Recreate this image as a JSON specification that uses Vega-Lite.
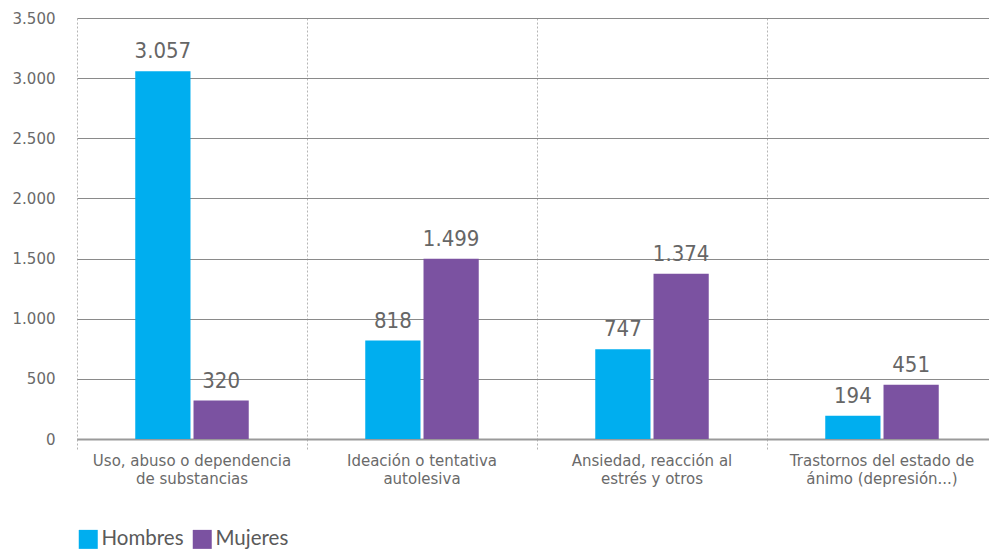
{
  "$schema": "https://vega.github.io/schema/vega-lite/v6.json",
  "autosize": {"type": "none"},
  "padding": {"left": 62, "top": 18, "right": 0, "bottom": 110},
  "width": 927,
  "height": 421,
  "config": {
    "locale": {"number": {"decimal": ",", "thousands": ".", "grouping": [3], "currency": ["", " €"]}},
    "view": {"stroke": null},
    "font": "DejaVu Sans"
  },
  "data": {
    "values": [
      {"categoria": "Uso, abuso o dependencia de substancias", "sexo": "Hombres", "valor": 3057},
      {"categoria": "Uso, abuso o dependencia de substancias", "sexo": "Mujeres", "valor": 320},
      {"categoria": "Ideación o tentativa autolesiva", "sexo": "Hombres", "valor": 818},
      {"categoria": "Ideación o tentativa autolesiva", "sexo": "Mujeres", "valor": 1499},
      {"categoria": "Ansiedad, reacción al estrés y otros", "sexo": "Hombres", "valor": 747},
      {"categoria": "Ansiedad, reacción al estrés y otros", "sexo": "Mujeres", "valor": 1374},
      {"categoria": "Trastornos del estado de ánimo (depresión...)", "sexo": "Hombres", "valor": 194},
      {"categoria": "Trastornos del estado de ánimo (depresión...)", "sexo": "Mujeres", "valor": 451}
    ]
  },
  "encoding": {
    "x": {
      "field": "categoria",
      "type": "nominal",
      "sort": null,
      "title": null,
      "scale": {"range": [15, 935], "paddingInner": 0, "paddingOuter": 0},
      "axis": {
        "bandPosition": 0,
        "grid": true,
        "gridDash": [2, 2],
        "gridColor": "#b5b5b5",
        "gridWidth": 1,
        "ticks": true,
        "tickSize": 10,
        "tickDash": [2, 2],
        "tickColor": "#b5b5b5",
        "domain": true,
        "domainColor": "#9a9a9a",
        "domainWidth": 2,
        "labelAngle": 0,
        "labelLimit": 400,
        "labelFont": "DejaVu Sans",
        "labelFontSize": 15,
        "labelColor": "#6a6a6a",
        "labelPadding": 4,
        "labelLineHeight": 18,
        "labelBaseline": "top",
        "labelExpr": "{'Uso, abuso o dependencia de substancias': ['Uso, abuso o dependencia', 'de substancias'], 'Ideación o tentativa autolesiva': ['Ideación o tentativa', 'autolesiva'], 'Ansiedad, reacción al estrés y otros': ['Ansiedad, reacción al', 'estrés y otros'], 'Trastornos del estado de ánimo (depresión...)': ['Trastornos del estado de', 'ánimo (depresión...)']}[datum.label]"
      }
    },
    "xOffset": {
      "field": "sexo",
      "type": "nominal",
      "sort": ["Hombres", "Mujeres"],
      "scale": {"paddingInner": 0.052, "paddingOuter": 1.01}
    },
    "y": {
      "field": "valor",
      "type": "quantitative",
      "title": null,
      "scale": {"domain": [0, 3500], "nice": false},
      "axis": {
        "values": [0, 500, 1000, 1500, 2000, 2500, 3000, 3500],
        "format": ",d",
        "grid": true,
        "gridColor": "#8a8a8a",
        "gridWidth": 1,
        "domain": false,
        "ticks": false,
        "labelPadding": 7,
        "labelFont": "DejaVu Sans",
        "labelFontSize": 15,
        "labelColor": "#6a6a6a"
      }
    }
  },
  "layer": [
    {
      "mark": {"type": "bar"},
      "encoding": {
        "color": {
          "field": "sexo",
          "type": "nominal",
          "sort": ["Hombres", "Mujeres"],
          "scale": {"domain": ["Hombres", "Mujeres"], "range": ["#00AEEF", "#7B52A1"]},
          "legend": {
            "title": null,
            "orient": "none",
            "legendX": 16,
            "legendY": 511,
            "direction": "horizontal",
            "symbolType": "square",
            "symbolSize": 361,
            "symbolStrokeWidth": 0,
            "symbolOpacity": 1,
            "labelFont": "Lato",
            "labelFontSize": 20.5,
            "labelColor": "#5a5a5a",
            "labelOffset": 3,
            "columnPadding": 8
          }
        }
      }
    },
    {
      "mark": {
        "type": "text",
        "baseline": "alphabetic",
        "dy": -13,
        "font": "DejaVu Sans Condensed",
        "fontSize": 22,
        "color": "#666666"
      },
      "encoding": {
        "text": {"field": "valor", "type": "quantitative", "format": ",d"}
      }
    }
  ]
}
